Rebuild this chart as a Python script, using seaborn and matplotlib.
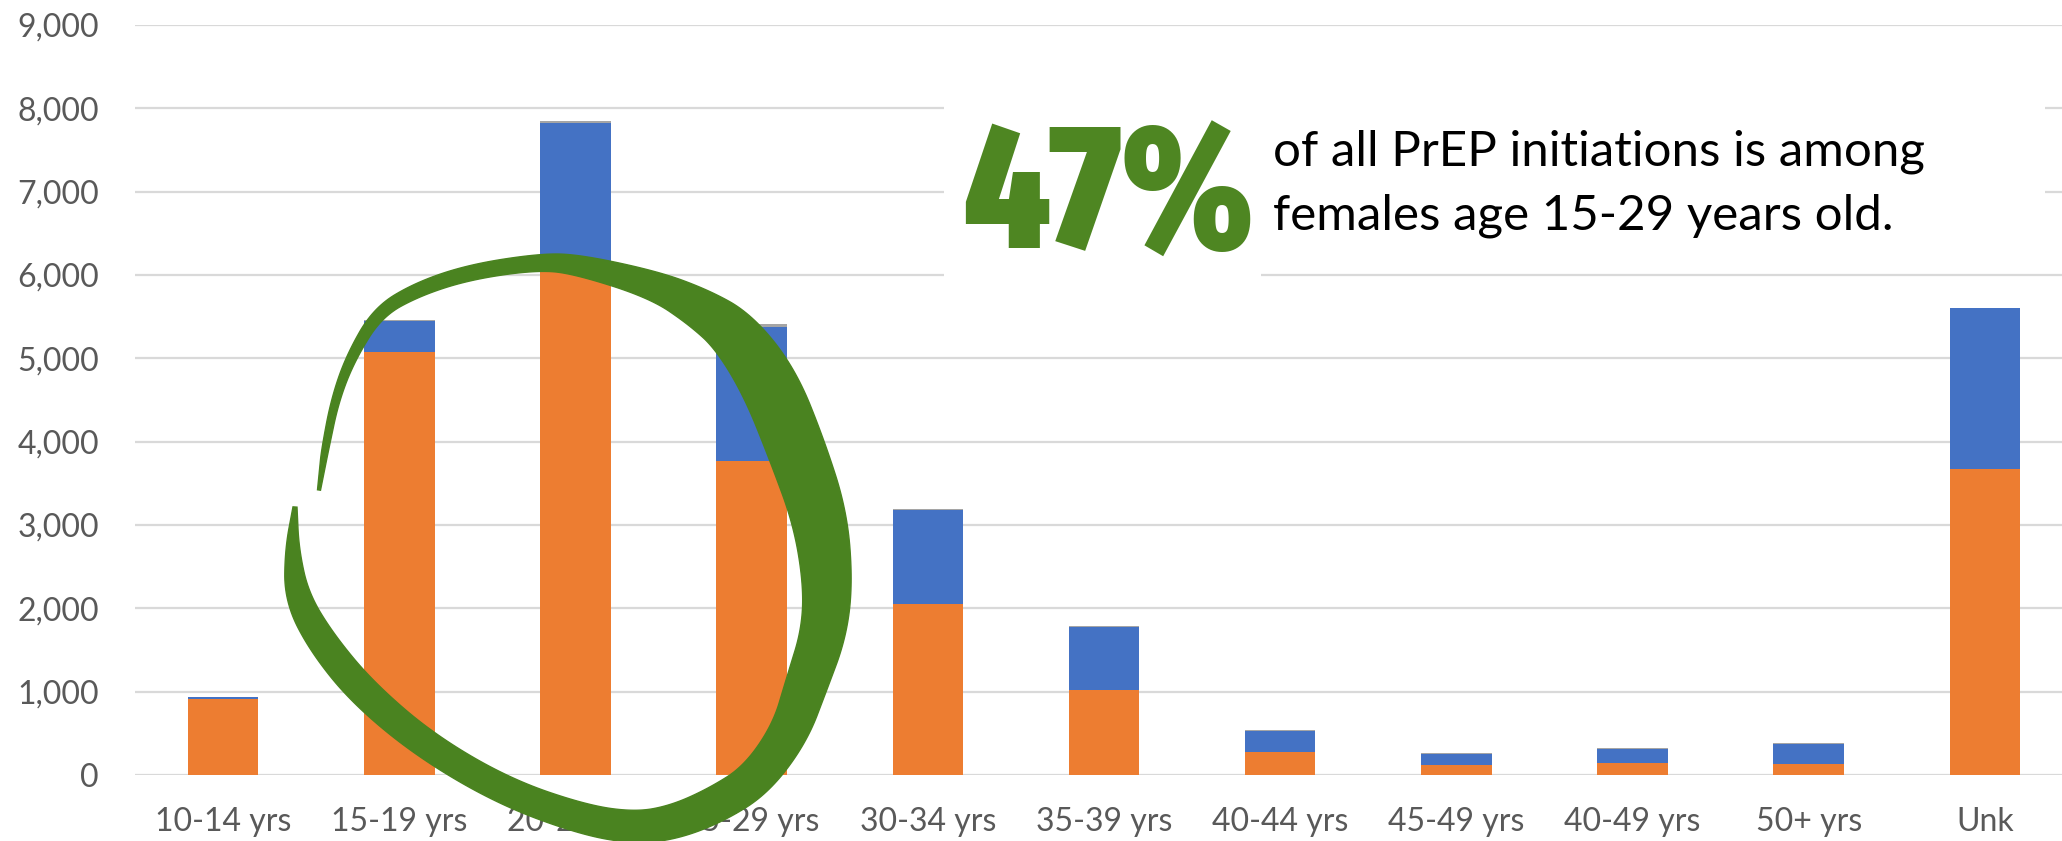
import numpy as np
import pandas as pd
import matplotlib
matplotlib.use("Agg")
import matplotlib.pyplot as plt
import seaborn as sns
from matplotlib import font_manager as fm
from matplotlib.patches import Rectangle, Polygon
from matplotlib.ticker import FuncFormatter

# ---------------- data ----------------
categories = ["10-14 yrs", "15-19 yrs", "20-24 yrs", "25-29 yrs", "30-34 yrs",
              "35-39 yrs", "40-44 yrs", "45-49 yrs", "40-49 yrs", "50+ yrs", "Unk"]
female = [912, 5080, 6040, 3768, 2048, 1024, 280, 124, 140, 136, 3672]
male = [20, 368, 1787, 1604, 1128, 748, 248, 128, 172, 236, 1932]
other = [4, 6, 21, 36, 20, 12, 8, 8, 8, 12, 0]
y_ticks = [0, 1000, 2000, 3000, 4000, 5000, 6000, 7000, 8000, 9000]
big_number = "47%"
note_lines = ["of all PrEP initiations is among", "females age 15-29 years old."]

# ---------------- style ----------------
sns.set_style("white")
plt.rcParams["font.family"] = ["Lato", "DejaVu Sans"]

W, H = 2062, 841
fig = plt.figure(figsize=(W / 100, H / 100), dpi=100)
fig.patch.set_facecolor("white")

def fx(x):
    return x / W

def fy(y):
    return 1 - y / H

left, right, top, bottom = 135, 2073, 25, 775
ax = fig.add_axes([fx(left), fy(bottom), (right - left) / W, (bottom - top) / H])

df = pd.DataFrame({"cat": categories, "female": female, "male": male, "other": other})
df["t2"] = df["female"] + df["male"]
df["t3"] = df["t2"] + df["other"]

common = dict(data=df, x="cat", order=categories, width=0.4, saturation=1,
              linewidth=0, ax=ax, errorbar=None)
sns.barplot(y="t3", color="#A5A5A5", **common)
sns.barplot(y="t2", color="#4472C4", **common)
sns.barplot(y="female", color="#ED7D31", **common)

ax.set_xlim(-0.5, len(categories) - 0.5)
ax.set_ylim(0, 9000)
ax.set_yticks(y_ticks)
ax.yaxis.set_major_formatter(FuncFormatter(lambda v, p: f"{v:,.0f}"))
ax.set_xlabel("")
ax.set_ylabel("")
ax.grid(axis="y", color="#D9D9D9", linewidth=1.6)
ax.grid(axis="x", visible=False)
ax.set_axisbelow(True)
for s in ax.spines.values():
    s.set_visible(False)
ax.tick_params(axis="y", length=0, pad=26, labelsize=23, labelcolor="#595959")
ax.tick_params(axis="x", length=0, pad=23, labelsize=23, labelcolor="#595959")
ax.set_facecolor("none")

# ---------------- white text boxes ----------------
fig.add_artist(Rectangle((fx(944), fy(300)), (1261 - 944) / W, (300 - 60) / H,
                         transform=fig.transFigure, facecolor="white",
                         edgecolor="none", zorder=2))
fig.add_artist(Rectangle((fx(1261), fy(250)), (2045 - 1261) / W, (250 - 60) / H,
                         transform=fig.transFigure, facecolor="white",
                         edgecolor="none", zorder=2))

# ---------------- fonts for the big number ----------------
def pick_condensed():
    best, best_score = None, -1
    for f in fm.fontManager.ttflist:
        n = (f.fname + " " + f.name).lower().replace(" ", "")
        if "italic" in n or "oblique" in n:
            continue
        score = 0
        if "extracondensed" in n:
            score += 30
        elif "semicondensed" in n:
            score += 10
        elif "condensed" in n or "narrow" in n:
            score += 20
        else:
            continue
        if "black" in n:
            score += 10
        elif "extrabold" in n:
            score += 8
        elif "bold" in n:
            score += 6
        if score > best_score:
            best, best_score = f.fname, score
    return best

fname = pick_condensed()
if fname:
    big_fp = fm.FontProperties(fname=fname)
else:
    big_fp = fm.FontProperties(family=["Lato", "DejaVu Sans"], weight="black")

renderer = fig.canvas.get_renderer()

def fit_text(x, y, s, target_w, fs0, **kw):
    t = fig.text(fx(x), fy(y), s, fontsize=fs0, va="baseline", ha="left", zorder=3, **kw)
    bb = t.get_window_extent(renderer=renderer)
    t.set_fontsize(fs0 * target_w / bb.width)
    return t

big = fig.text(fx(963), fy(249), big_number, fontproperties=big_fp, color="#4E8622",
               va="baseline", ha="left", zorder=3)
big.set_fontsize(100)
bb = big.get_window_extent(renderer=renderer)
fs_w = 100 * 253 / bb.width
fs_h = 100 * 190 / bb.height
big.set_fontsize(min(fs_w * 1.15, fs_h))

t1 = fit_text(1273, 166, note_lines[0], 652, 30, color="black")
fs1 = t1.get_fontsize()
t2 = fig.text(fx(1273), fy(229), note_lines[1], fontsize=fs1, color="black",
              va="baseline", ha="left", zorder=3)

# ---------------- hand-drawn green circle (annotation) ----------------
stroke = np.array([
    (319, 490, 3), (322, 470, 5), (325, 450, 7), (335, 400, 8), (351, 357, 10),
    (378, 312, 12), (418, 289, 14), (470, 272, 15), (537, 262, 16), (576, 264, 20),
    (655, 285, 28), (700, 308, 40), (735, 333, 50), (770, 383, 58), (797, 450, 58),
    (820, 517, 55), (828, 583, 49), (824, 633, 45), (807, 683, 42), (790, 733, 38),
    (756, 780, 36), (716, 805, 36), (675, 822, 34), (636, 828, 32), (584, 820, 30),
    (505, 792, 28), (426, 746, 28), (363, 693, 30), (322, 643, 29), (297, 598, 25),
    (292, 550, 14), (295, 507, 4),
], dtype=float)

def chaikin(p, n=4):
    for _ in range(n):
        new = [p[0]]
        for a, b in zip(p[:-1], p[1:]):
            new.append(0.75 * a + 0.25 * b)
            new.append(0.25 * a + 0.75 * b)
        new.append(p[-1])
        p = np.array(new)
    return p

sp = chaikin(stroke, 4)
xy = sp[:, :2]
wd = sp[:, 2]
d = np.gradient(xy, axis=0)
d /= np.linalg.norm(d, axis=1)[:, None]
nrm = np.stack([-d[:, 1], d[:, 0]], axis=1)
sideA = xy + nrm * wd[:, None] / 2
sideB = xy - nrm * wd[:, None] / 2
poly = np.vstack([sideA, sideB[::-1]])
poly_fig = np.column_stack([poly[:, 0] / W, 1 - poly[:, 1] / H])
fig.add_artist(Polygon(poly_fig, closed=True, transform=fig.transFigure,
                       facecolor="#4A8320", edgecolor="#4A8320", linewidth=1,
                       zorder=5))

fig.savefig("out.png", dpi=100, facecolor="white")
